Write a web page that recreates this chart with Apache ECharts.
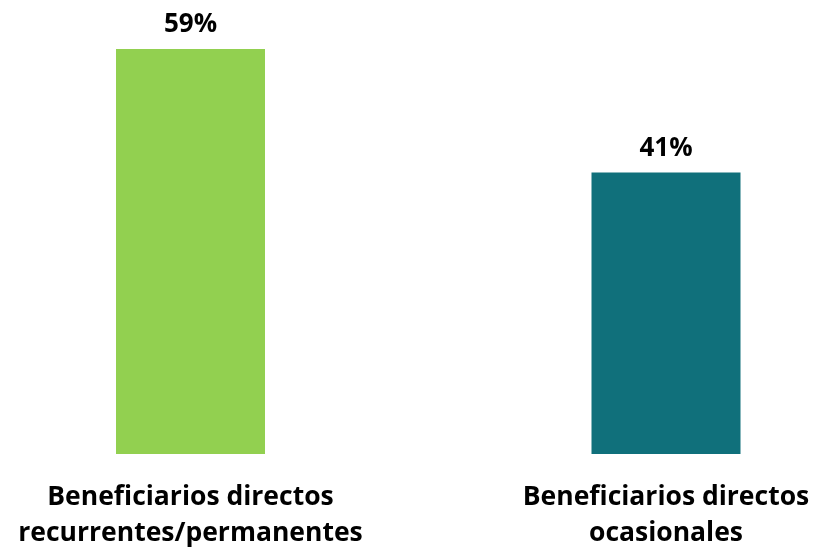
<!DOCTYPE html>
<html><head><meta charset="utf-8">
<script src="https://cdn.jsdelivr.net/npm/echarts@6/dist/echarts.min.js"></script>
<style>html,body{margin:0;padding:0;background:#fff}#c{width:813px;height:551px}</style>
</head><body><div id="c"></div>
<script>
const categories = ['Beneficiarios directos\nrecurrentes/permanentes', 'Beneficiarios directos\nocasionales'];
const values = [59, 41];
const colors = ['#92D050', '#10707B'];
const chart = echarts.init(document.getElementById('c'));
chart.setOption({
  animation: false,
  grid: {left: 190.5, right: 147, top: 49, bottom: 96, containLabel: false},
  xAxis: {
    type: 'category', data: categories, boundaryGap: false,
    axisLine: {show: false}, axisTick: {show: false},
    axisLabel: {interval: 0, margin: 25, color: '#000', fontFamily: 'Open Sans', fontWeight: 'bold', fontSize: 26.5, lineHeight: 36}
  },
  yAxis: {type: 'value', min: 0, max: 59, show: false, splitLine: {show: false}},
  series: [{
    type: 'bar', barWidth: 149,
    data: values.map((v, i) => ({value: v, itemStyle: {color: colors[i]}})),
    label: {show: true, position: 'top', distance: 11, formatter: '{c}%', color: '#000', fontFamily: 'Open Sans', fontWeight: 'bold', fontSize: 26}
  }]
});
</script></body></html>
